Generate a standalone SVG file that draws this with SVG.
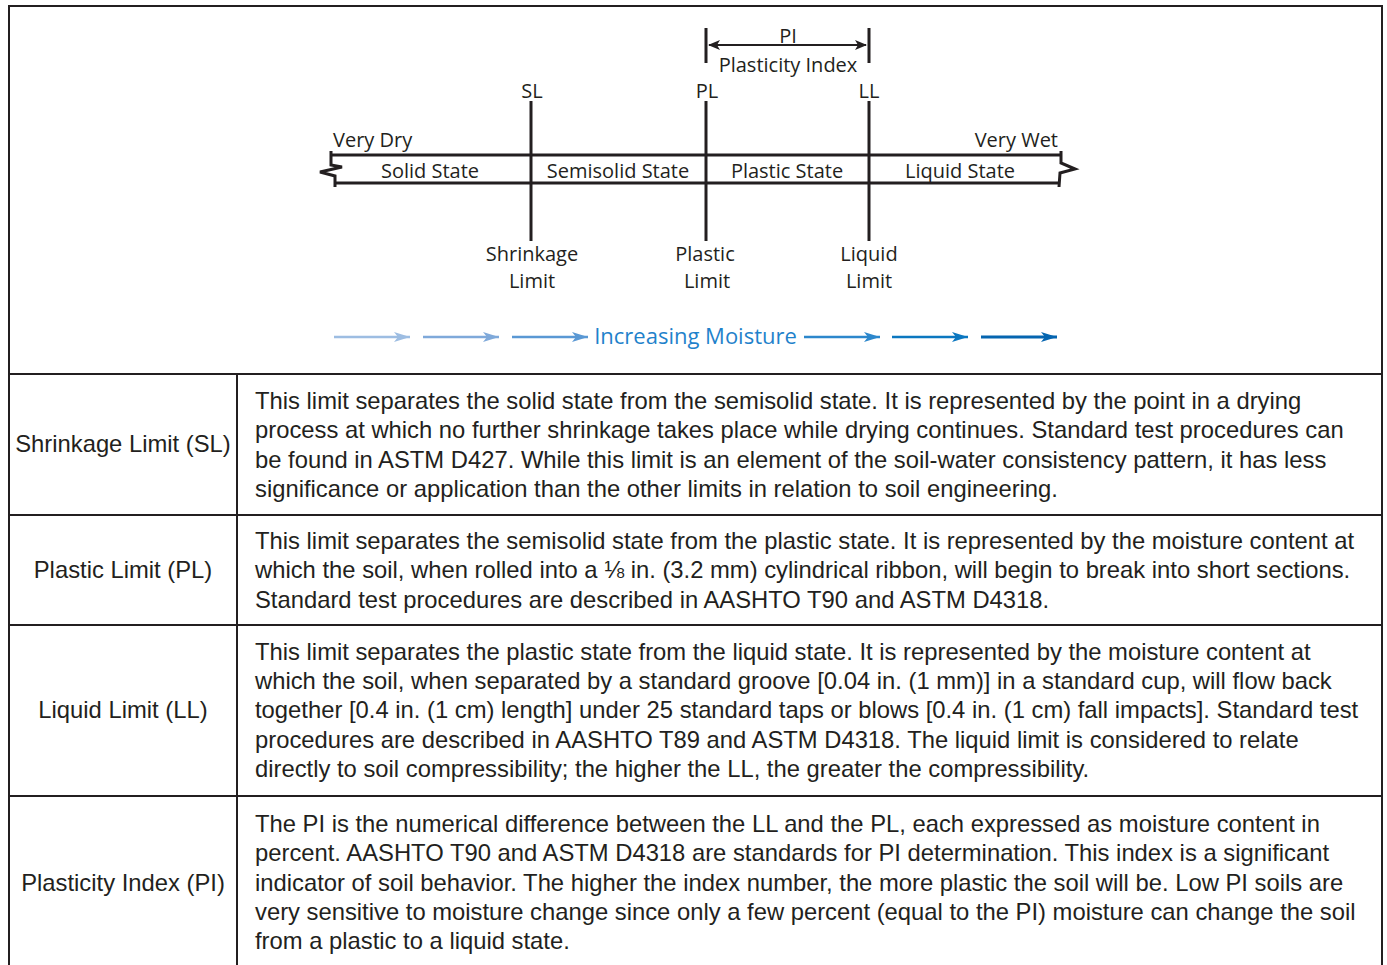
<svg xmlns="http://www.w3.org/2000/svg" width="1387" height="965" viewBox="0 0 1387 965">
<defs>
<style>
.ln{stroke:#231f20;stroke-width:3;fill:none}
.bd{stroke:#231f20;stroke-width:2;fill:none}
.dg{font-family:"Open Sans","Noto Sans",sans-serif;font-size:20px;fill:#231f20}
.tb{font-family:"Liberation Sans",Arial,sans-serif;font-size:23.8px;fill:#231f20}
.mid{text-anchor:middle}
</style>
<marker id="ah" viewBox="0 0 12 10" refX="11" refY="5" markerWidth="12" markerHeight="10" markerUnits="userSpaceOnUse" orient="auto-start-reverse">
<path d="M0,0 L12,5 L0,10 L3,5 Z" fill="#231f20"/>
</marker>
<marker id="b1" viewBox="0 0 16 10" refX="16" refY="5" markerWidth="16" markerHeight="10" markerUnits="userSpaceOnUse" orient="auto"><path d="M0,0 L16,5 L0,10 L4,5 Z" fill="#9dbde2"/></marker>
<marker id="b2" viewBox="0 0 16 10" refX="16" refY="5" markerWidth="16" markerHeight="10" markerUnits="userSpaceOnUse" orient="auto"><path d="M0,0 L16,5 L0,10 L4,5 Z" fill="#7fa9da"/></marker>
<marker id="b3" viewBox="0 0 16 10" refX="16" refY="5" markerWidth="16" markerHeight="10" markerUnits="userSpaceOnUse" orient="auto"><path d="M0,0 L16,5 L0,10 L4,5 Z" fill="#5a98d4"/></marker>
<marker id="b4" viewBox="0 0 16 10" refX="16" refY="5" markerWidth="16" markerHeight="10" markerUnits="userSpaceOnUse" orient="auto"><path d="M0,0 L16,5 L0,10 L4,5 Z" fill="#2c87cc"/></marker>
<marker id="b5" viewBox="0 0 16 10" refX="16" refY="5" markerWidth="16" markerHeight="10" markerUnits="userSpaceOnUse" orient="auto"><path d="M0,0 L16,5 L0,10 L4,5 Z" fill="#0b77c0"/></marker>
<marker id="b6" viewBox="0 0 16 10" refX="16" refY="5" markerWidth="16" markerHeight="10" markerUnits="userSpaceOnUse" orient="auto"><path d="M0,0 L16,5 L0,10 L4,5 Z" fill="#0565b0"/></marker>
</defs>
<rect width="1387" height="965" fill="#ffffff"/>

<g id="table-frame">
<path class="bd" d="M9,966 V6 H1382 V966"/>
<path class="bd" d="M9,374 H1382 M9,515 H1382 M9,625 H1382 M9,796 H1382 M237,374 V966"/>
</g>

<g id="scale-bar">
<path class="ln" d="M331,155 H1061 M334,183 H1058"/>
<path class="ln" stroke-width="2.5" d="M331,151 V165 L342,167 L320,172 L335,176 V187"/>
<path class="ln" stroke-width="2.5" d="M1061,151 V163 L1075,169 L1060,173 L1059,187"/>
<text class="dg" x="333" y="147">Very Dry</text>
<text class="dg" x="1058" y="147" text-anchor="end">Very Wet</text>
<text class="dg mid" x="430" y="178">Solid State</text>
<text class="dg mid" x="618" y="178">Semisolid State</text>
<text class="dg mid" x="787" y="178">Plastic State</text>
<text class="dg mid" x="960" y="178">Liquid State</text>
</g>

<g id="sl-line">
<path class="ln" d="M531,101 V241"/>
<text class="dg mid" x="532" y="98">SL</text>
<text class="dg mid" x="532" y="261">Shrinkage</text>
<text class="dg mid" x="532" y="288">Limit</text>
</g>
<g id="pl-line">
<path class="ln" d="M706,101 V241"/>
<text class="dg mid" x="707" y="98">PL</text>
<text class="dg mid" x="705" y="261">Plastic</text>
<text class="dg mid" x="707" y="288">Limit</text>
</g>
<g id="ll-line">
<path class="ln" d="M869,101 V241"/>
<text class="dg mid" x="869" y="98">LL</text>
<text class="dg mid" x="869" y="261">Liquid</text>
<text class="dg mid" x="869" y="288">Limit</text>
</g>
<g id="pi-bracket">
<path class="ln" d="M706,28 V63 M869,28 V63"/>
<path class="bd" d="M709,45 H866" marker-start="url(#ah)" marker-end="url(#ah)"/>
<text class="dg mid" x="788" y="43">PI</text>
<text class="dg mid" x="788" y="72">Plasticity Index</text>
</g>

<g id="moisture">
<path d="M334,337 H410" stroke="#9dbde2" stroke-width="2.5" marker-end="url(#b1)"/>
<path d="M423,337 H499" stroke="#7fa9da" stroke-width="2.5" marker-end="url(#b2)"/>
<path d="M512,337 H588" stroke="#5a98d4" stroke-width="2.5" marker-end="url(#b3)"/>
<text x="695.5" y="344" text-anchor="middle" style="font-family:'Open Sans','Noto Sans',sans-serif;font-size:22px;fill:#1f82cb">Increasing Moisture</text>
<path d="M804,337 H880" stroke="#2c87cc" stroke-width="2.5" marker-end="url(#b4)"/>
<path d="M892,337 H968" stroke="#0b77c0" stroke-width="2.5" marker-end="url(#b5)"/>
<path d="M981,337 H1057" stroke="#0565b0" stroke-width="3" marker-end="url(#b6)"/>
</g>

<g id="row-sl">
<text class="tb mid" x="123" y="452">Shrinkage Limit (SL)</text>
<text class="tb" x="255" y="409">This limit separates the solid state from the semisolid state. It is represented by the point in a drying</text>
<text class="tb" x="255" y="438">process at which no further shrinkage takes place while drying continues. Standard test procedures can</text>
<text class="tb" x="255" y="468">be found in ASTM D427. While this limit is an element of the soil-water consistency pattern, it has less</text>
<text class="tb" x="255" y="497">significance or application than the other limits in relation to soil engineering.</text>
</g>
<g id="row-pl">
<text class="tb mid" x="123" y="578">Plastic Limit (PL)</text>
<text class="tb" x="255" y="549">This limit separates the semisolid state from the plastic state. It is represented by the moisture content at</text>
<text class="tb" x="255" y="578">which the soil, when rolled into a ⅛ in. (3.2 mm) cylindrical ribbon, will begin to break into short sections.</text>
<text class="tb" x="255" y="608">Standard test procedures are described in AASHTO T90 and ASTM D4318.</text>
</g>
<g id="row-ll">
<text class="tb mid" x="123" y="718">Liquid Limit (LL)</text>
<text class="tb" x="255" y="660">This limit separates the plastic state from the liquid state. It is represented by the moisture content at</text>
<text class="tb" x="255" y="689">which the soil, when separated by a standard groove [0.04 in. (1 mm)] in a standard cup, will flow back</text>
<text class="tb" x="255" y="718">together [0.4 in. (1 cm) length] under 25 standard taps or blows [0.4 in. (1 cm) fall impacts]. Standard test</text>
<text class="tb" x="255" y="748">procedures are described in AASHTO T89 and ASTM D4318. The liquid limit is considered to relate</text>
<text class="tb" x="255" y="777">directly to soil compressibility; the higher the LL, the greater the compressibility.</text>
</g>
<g id="row-pi">
<text class="tb mid" x="123" y="891">Plasticity Index (PI)</text>
<text class="tb" x="255" y="832">The PI is the numerical difference between the LL and the PL, each expressed as moisture content in</text>
<text class="tb" x="255" y="861">percent. AASHTO T90 and ASTM D4318 are standards for PI determination. This index is a significant</text>
<text class="tb" x="255" y="891">indicator of soil behavior. The higher the index number, the more plastic the soil will be. Low PI soils are</text>
<text class="tb" x="255" y="920">very sensitive to moisture change since only a few percent (equal to the PI) moisture can change the soil</text>
<text class="tb" x="255" y="949">from a plastic to a liquid state.</text>
</g>
</svg>
